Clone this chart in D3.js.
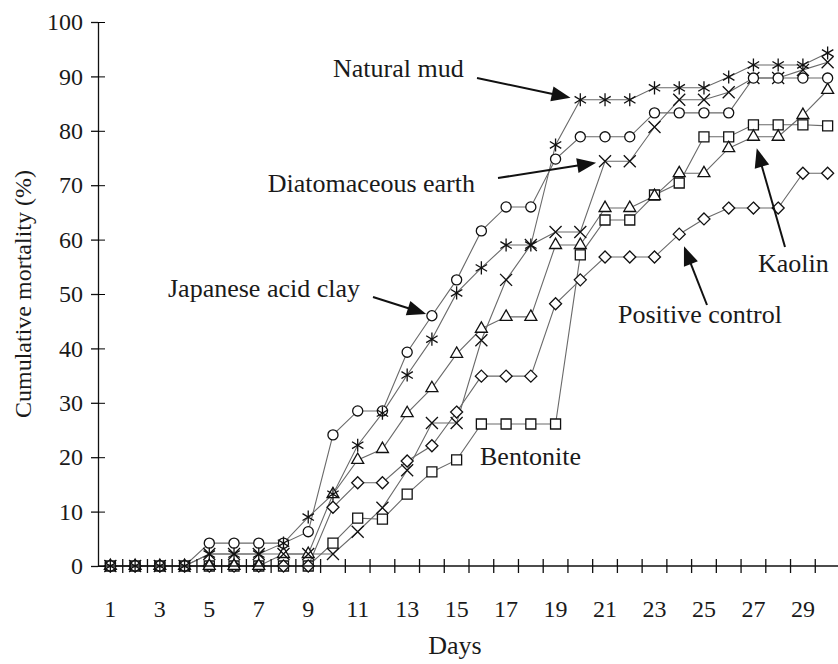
<!DOCTYPE html>
<html>
<head>
<meta charset="utf-8">
<script src="https://cdn.jsdelivr.net/npm/d3@7"></script>
<style>
  body { margin: 0; background: #fff; }
  text { font-family: "Liberation Serif", "Times New Roman", serif; fill: #1a1a1a; }
</style>
</head>
<body>
<div id="chart"></div>
<script>
(function () {

  // days 1..30, only odd ones are labelled
  const days = d3.range(1, 31)
  const dayLabels = [1, 3, 5, 7, 9, 11, 13, 15, 17, 19, 21, 23, 25, 27, 29]
  const yTicks = [0, 10, 20, 30, 40, 50, 60, 70, 80, 90, 100]

  // cumulative mortality (%)
  const naturalMud = [0, 0, 0, 0, 2.2, 2.2, 2.2, 4.2, 9, 13.2, 22.2, 28.1, 35.1, 41.7, 50.2, 54.8, 59, 59, 77.4, 85.7, 85.7, 85.7, 87.9, 87.9, 87.9, 89.9, 92.1, 92.1, 92.1, 94.3]
  const diatomaceousEarth = [0, 0, 0, 0, 2.2, 2.2, 2.2, 2.2, 2.2, 2.2, 6.3, 10.7, 17.6, 26.3, 26.3, 41.5, 52.6, 59, 61.4, 61.4, 74.4, 74.4, 80.7, 85.7, 85.7, 87.1, 89.7, 89.7, 91.2, 92.6]
  const japaneseAcidClay = [0, 0, 0, 0, 4.2, 4.2, 4.2, 4.2, 6.3, 24.1, 28.5, 28.5, 39.3, 46, 52.6, 61.6, 66, 66, 74.8, 78.9, 78.9, 78.9, 83.3, 83.3, 83.3, 83.3, 89.7, 89.7, 89.7, 89.7]
  const kaolin = [0, 0, 0, 0, 0, 0, 0, 2.2, 2.2, 13.2, 19.5, 21.5, 28.1, 32.7, 39, 43.6, 45.8, 45.8, 59, 59, 65.8, 65.8, 68, 72.2, 72.2, 76.8, 78.9, 78.9, 82.9, 87.5]
  const positiveControl = [0, 0, 0, 0, 0, 0, 0, 0, 0, 10.8, 15.3, 15.3, 19.3, 22.1, 28.3, 34.9, 34.9, 34.9, 48.2, 52.6, 56.8, 56.8, 56.8, 61, 63.8, 65.8, 65.8, 65.8, 72.2, 72.2]
  const bentonite = [0, 0, 0, 0, 0, 0, 0, 0, 0, 4.2, 8.8, 8.6, 13.2, 17.3, 19.5, 26.1, 26.1, 26.1, 26.1, 57.2, 63.6, 63.6, 68.2, 70.4, 78.9, 78.9, 81.1, 81.1, 81.1, 80.9]

  const width = 838
  const height = 664

  const svg = d3.select("#chart").append("svg")
      .attr("width", width)
      .attr("height", height)

  // category axis, markers sit in the middle of each day
  const xPositionScale = d3.scaleBand()
    .domain(days)
    .range([98, 840])

  const yPositionScale = d3.scaleLinear()
    .domain([0, 100])
    .range([566, 22])

  const cx = d => xPositionScale(d) + xPositionScale.bandwidth() / 2

  // symbols: open markers like the old excel chart
  const diamond = { draw (ctx, size) {
    const r = Math.sqrt(size) / 2
    ctx.moveTo(0, -r); ctx.lineTo(r, 0); ctx.lineTo(0, r); ctx.lineTo(-r, 0); ctx.closePath()
  } }
  const times = { draw (ctx, size) {
    const r = Math.sqrt(size) / 2
    ctx.moveTo(-r, -r); ctx.lineTo(r, r); ctx.moveTo(-r, r); ctx.lineTo(r, -r)
  } }
  const asterisk = { draw (ctx, size) {
    const r = Math.sqrt(size) / 2
    ctx.moveTo(0, -r * 1.15); ctx.lineTo(0, r * 1.15)
    ctx.moveTo(-r, -r * 0.6); ctx.lineTo(r, r * 0.6)
    ctx.moveTo(-r, r * 0.6); ctx.lineTo(r, -r * 0.6)
  } }

  const series = [
    { name: "Bentonite", values: bentonite, type: d3.symbolSquare, size: 100, fill: "white" },
    { name: "Positive control", values: positiveControl, type: diamond, size: 144, fill: "white" },
    { name: "Kaolin", values: kaolin, type: d3.symbolTriangle, size: 62, fill: "white" },
    { name: "Diatomaceous earth", values: diatomaceousEarth, type: times, size: 144, fill: "none" },
    { name: "Japanese acid clay", values: japaneseAcidClay, type: d3.symbolCircle, size: 80, fill: "white" },
    { name: "Natural mud", values: naturalMud, type: asterisk, size: 130, fill: "none" }
  ]

  const line = d3.line()
    .x((d, i) => cx(days[i]))
    .y(d => yPositionScale(d))

  // connecting lines first
  svg.append("g")
    .selectAll("path")
    .data(series)
    .join("path")
    .attr("d", d => line(d.values))
    .attr("fill", "none")
    .attr("stroke", "#6a6a6a")
    .attr("stroke-width", 1.1)

  // then markers on top
  series.forEach(s => {
    svg.append("g")
      .selectAll("path")
      .data(s.values)
      .join("path")
      .attr("transform", (d, i) => "translate(" + cx(days[i]) + "," + yPositionScale(d) + ")")
      .attr("d", d3.symbol().type(s.type).size(s.size))
      .attr("fill", s.fill)
      .attr("stroke", "#111")
      .attr("stroke-width", 1.3)
  })

  // y axis with crossing ticks
  const yAxis = d3.axisLeft(yPositionScale)
    .tickValues(yTicks)
    .tickSize(7)
    .tickSizeOuter(0)
    .tickPadding(8)
  svg.append("g")
    .attr("class", "axis y-axis")
    .attr("transform", "translate(98,0)")
    .call(yAxis)
    .call(g => g.selectAll("text").attr("font-size", 24).attr("font-family", "Liberation Serif"))

  svg.append("g")
    .attr("transform", "translate(98,0)")
    .call(d3.axisRight(yPositionScale).tickValues(yTicks).tickSize(7).tickSizeOuter(0).tickFormat(""))
    .call(g => g.select(".domain").remove())

  // x axis: labels under odd days, ticks between the days
  const xAxis = d3.axisBottom(xPositionScale)
    .tickValues(dayLabels)
    .tickSize(0)
    .tickPadding(34)
  svg.append("g")
    .attr("class", "axis x-axis")
    .attr("transform", "translate(0," + yPositionScale(0) + ")")
    .call(xAxis)
    .call(g => g.select(".domain").remove())
    .call(g => g.selectAll("text").attr("font-size", 24).attr("font-family", "Liberation Serif"))

  svg.append("line")
    .attr("x1", 98)
    .attr("x2", 840)
    .attr("y1", yPositionScale(0))
    .attr("y2", yPositionScale(0))
    .attr("stroke", "#111")
    .attr("stroke-width", 1.3)

  svg.append("g")
    .selectAll("line")
    .data(days.slice(1).concat([31]))
    .join("line")
    .attr("x1", d => d === 31 ? 840 : xPositionScale(d))
    .attr("x2", d => d === 31 ? 840 : xPositionScale(d))
    .attr("y1", yPositionScale(0) - 7)
    .attr("y2", yPositionScale(0) + 7)
    .attr("stroke", "#111")
    .attr("stroke-width", 1.3)

  svg.selectAll(".axis path, .axis line")
    .attr("stroke", "#111")
    .attr("stroke-width", 1.3)

  svg.append("text")
    .text("Days")
    .attr("x", 455)
    .attr("y", 654)
    .attr("font-size", 26)
    .attr("text-anchor", "middle")

  svg.append("text")
    .text("Cumulative mortality (%)")
    .attr("transform", "translate(31,294) rotate(-90)")
    .attr("font-size", 24)
    .attr("text-anchor", "middle")

  // labels with arrows pointing at one marker of each series
  const annotations = [
    { name: "Natural mud", day: 20, tx: 333, ty: 77, anchor: "start", tail: [477, 78], gap: 10 },
    { name: "Diatomaceous earth", day: 21, tx: 475, ty: 192, anchor: "end", tail: [498, 178], gap: 9 },
    { name: "Japanese acid clay", day: 14, tx: 360, ty: 297, anchor: "end", tail: [373, 297], gap: 6 },
    { name: "Kaolin", day: 27, tx: 758, ty: 272, anchor: "start", tail: [785, 247], gap: 12 },
    { name: "Positive control", day: 24, tx: 618, ty: 323, anchor: "start", tail: [707, 305], gap: 13 },
    { name: "Bentonite", tx: 480, ty: 465, anchor: "start" }
  ]

  const notes = svg.append("g")

  notes.selectAll("text")
    .data(annotations)
    .join("text")
    .text(d => d.name)
    .attr("x", d => d.tx)
    .attr("y", d => d.ty)
    .attr("text-anchor", d => d.anchor)
    .attr("font-size", 26)

  annotations.filter(d => d.day).forEach(a => {
    const s = series.find(s => s.name === a.name)
    const px = cx(a.day)
    const py = yPositionScale(s.values[a.day - 1])
    const dx = px - a.tail[0]
    const dy = py - a.tail[1]
    const len = Math.sqrt(dx * dx + dy * dy)
    const ux = dx / len
    const uy = dy / len
    const tip = [px - ux * a.gap, py - uy * a.gap]
    const base = [tip[0] - ux * 19, tip[1] - uy * 19]
    const nx = -uy * 7.5
    const ny = ux * 7.5

    notes.append("line")
      .attr("x1", a.tail[0])
      .attr("y1", a.tail[1])
      .attr("x2", base[0] + ux * 2)
      .attr("y2", base[1] + uy * 2)
      .attr("stroke", "#111")
      .attr("stroke-width", 2)

    notes.append("path")
      .attr("d", "M" + tip + "L" + [base[0] + nx, base[1] + ny] + "L" + [base[0] - nx, base[1] - ny] + "Z")
      .attr("fill", "#111")
  })

})();
</script>
</body>
</html>
